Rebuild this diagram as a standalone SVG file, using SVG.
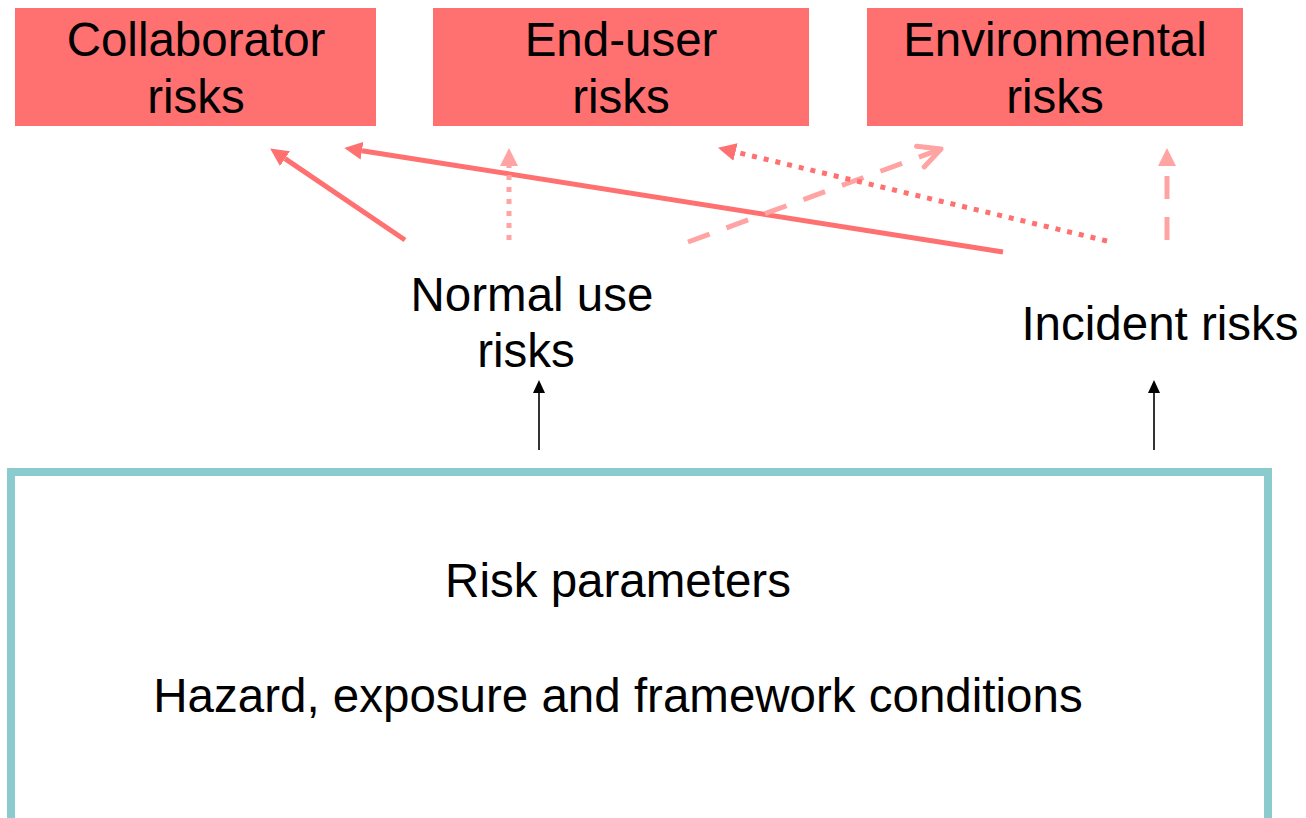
<svg xmlns="http://www.w3.org/2000/svg" width="1306" height="818" viewBox="0 0 1306 818">
<style>
  text { font-family: "Liberation Sans", Arial, sans-serif; font-size: 47.5px; fill: #000; text-anchor: middle; }
  .box { fill: #FF7070; }
  .frame { fill: none; stroke: #8CCBCD; stroke-width: 8; }
  .red { stroke: #FF7070; stroke-width: 5; fill: none; }
  .light { stroke: #FFA3A3; stroke-width: 5; fill: none; }
  .dot { stroke-dasharray: 5 7; }
  .dash { stroke-dasharray: 23 18; }
  .black { stroke: #000; stroke-width: 1.6; fill: none; }
</style>
<defs>
  <marker id="hRed" markerUnits="userSpaceOnUse" markerWidth="18" markerHeight="18" viewBox="0 0 18 18" refX="0" refY="9" orient="auto">
    <path d="M0,0 L18,9 L0,18 z" fill="#FF7070"/>
  </marker>
  <marker id="hLight" markerUnits="userSpaceOnUse" markerWidth="18" markerHeight="18" viewBox="0 0 18 18" refX="0" refY="9" orient="auto">
    <path d="M0,0 L18,9 L0,18 z" fill="#FFA3A3"/>
  </marker>
  <marker id="hOpen" markerUnits="userSpaceOnUse" markerWidth="34" markerHeight="34" viewBox="-28 -17 34 34" refX="0" refY="0" orient="auto">
    <path d="M-22,-11 L0,0 L-22,11" fill="none" stroke="#FFA3A3" stroke-width="5" stroke-linecap="round" stroke-linejoin="round"/>
  </marker>
  <marker id="hBlack" markerUnits="userSpaceOnUse" markerWidth="13" markerHeight="12" viewBox="0 0 13 12" refX="0" refY="6" orient="auto">
    <path d="M0,0 L13,6 L0,12 z" fill="#000"/>
  </marker>
</defs>

<g id="collaborator-risks">
  <rect class="box" x="15" y="8" width="361" height="118"/>
  <text x="196" y="56">Collaborator</text>
  <text x="196" y="113">risks</text>
</g>
<g id="end-user-risks">
  <rect class="box" x="433" y="8" width="376" height="118"/>
  <text x="621" y="56">End-user</text>
  <text x="621" y="113">risks</text>
</g>
<g id="environmental-risks">
  <rect class="box" x="867" y="8" width="376" height="118"/>
  <text x="1055" y="56">Environmental</text>
  <text x="1055" y="113">risks</text>
</g>
<g id="normal-use-risks">
  <text x="532" y="311">Normal use</text>
  <text x="526" y="367">risks</text>
</g>
<g id="incident-risks">
  <text x="1160" y="340">Incident risks</text>
</g>
<g id="risk-parameters">
  <rect class="frame" x="11" y="472" width="1257" height="350"/>
  <text x="618" y="597">Risk parameters</text>
  <text x="618" y="712">Hazard, exposure and framework conditions</text>
</g>

<g id="connectors">
  <line class="red" x1="405" y1="240" x2="285" y2="158.6" marker-end="url(#hRed)"/>
  <line class="red" x1="1003" y1="252" x2="362" y2="150.7" marker-end="url(#hRed)"/>
  <line class="light dot" x1="509" y1="240" x2="509" y2="166" marker-end="url(#hLight)"/>
  <line class="light dash" x1="688" y1="242" x2="941" y2="149" marker-end="url(#hOpen)"/>
  <line class="red dot" x1="1107" y1="241" x2="735.5" y2="152" marker-end="url(#hRed)"/>
  <line class="light dash" x1="1167" y1="240" x2="1167" y2="166" marker-end="url(#hLight)"/>
  <line class="black" x1="539" y1="450" x2="539" y2="393" marker-end="url(#hBlack)"/>
  <line class="black" x1="1154" y1="450" x2="1154" y2="393" marker-end="url(#hBlack)"/>
</g>
</svg>
